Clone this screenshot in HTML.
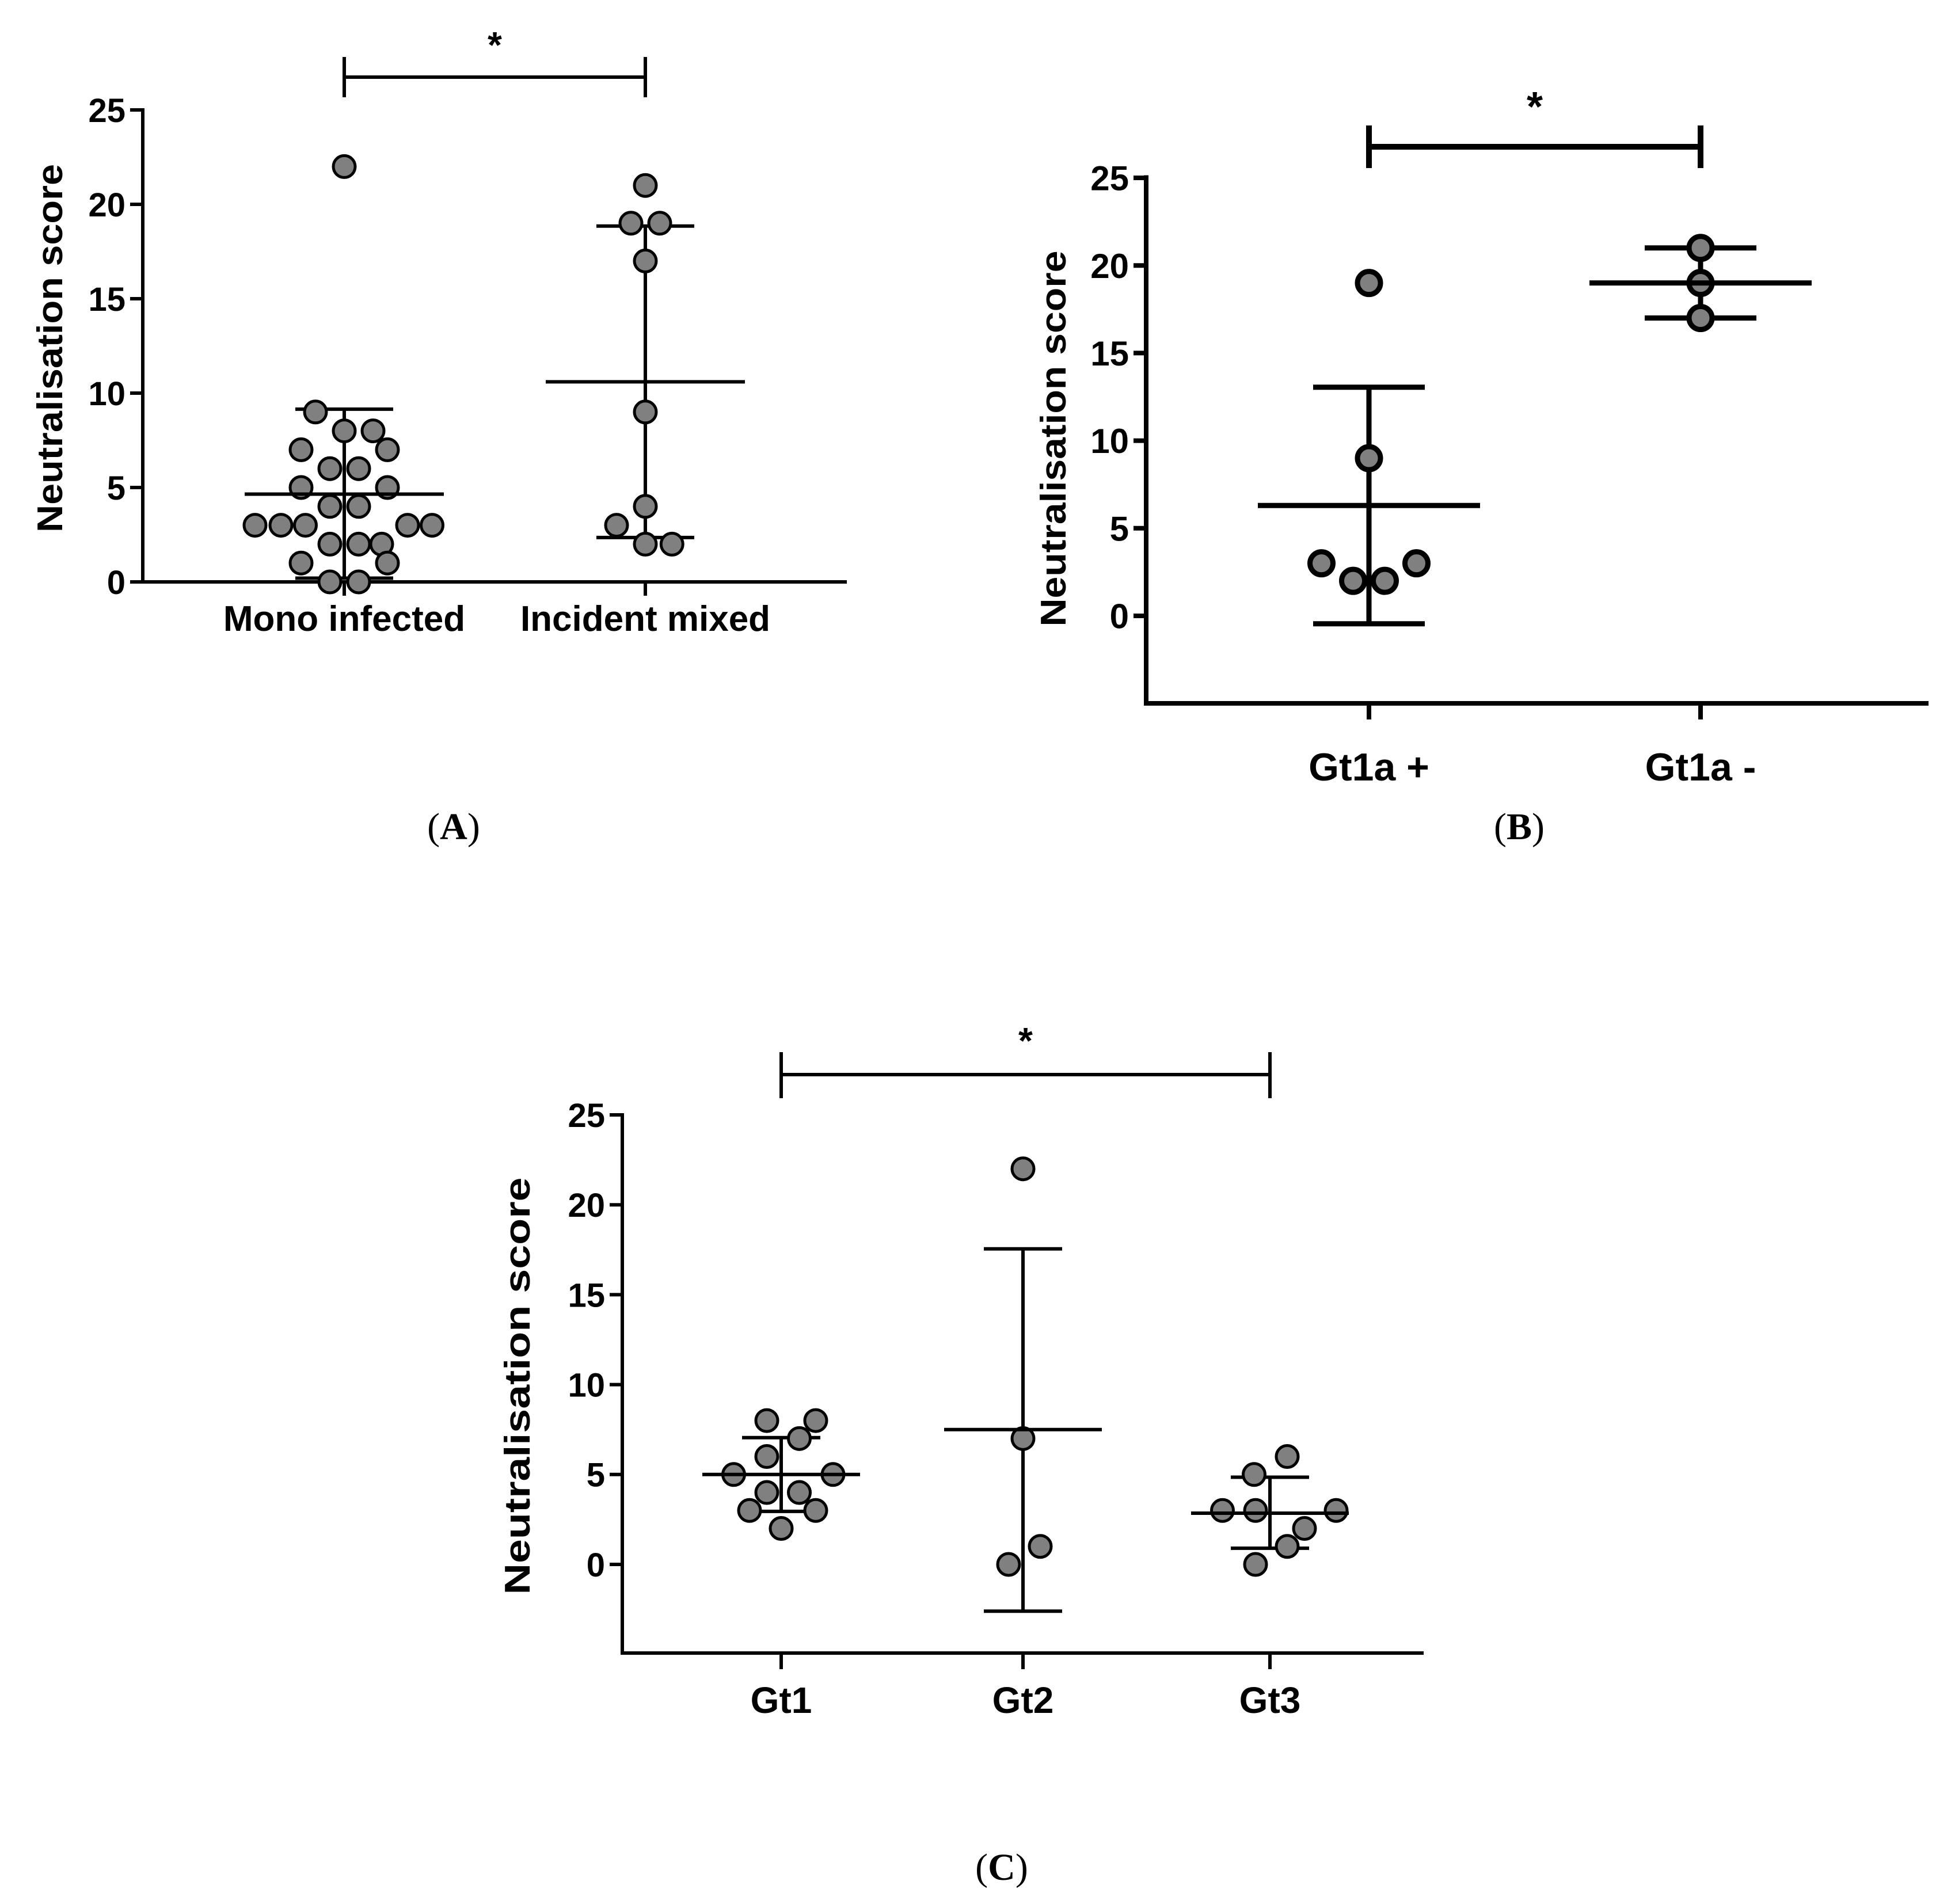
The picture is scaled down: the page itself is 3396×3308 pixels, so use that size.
<!DOCTYPE html>
<html><head><meta charset="utf-8"><style>
html,body{margin:0;padding:0;background:#fff;}
svg{display:block;}
text{font-family:"Liberation Sans",Arial,sans-serif;font-weight:bold;fill:#000;}
.pl{font-family:"Liberation Serif",serif;font-weight:normal;}
</style></head><body>
<svg id="fig" width="3396" height="3308" viewBox="0 0 3396 3308" xmlns="http://www.w3.org/2000/svg">
<rect width="3396" height="3308" fill="#fff"/>
<text class="pl" x="788" y="1458" font-size="66" text-anchor="middle">(<tspan font-weight="bold">A</tspan>)</text>
<text class="pl" x="2639" y="1458" font-size="66" text-anchor="middle">(<tspan font-weight="bold">B</tspan>)</text>
<text class="pl" x="1740" y="3266" font-size="66" text-anchor="middle">(<tspan font-weight="bold">C</tspan>)</text>
</svg>
<script>
// ---- Panel A data ----
const aCategories = ["Mono infected", "Incident mixed"];
const aMonoValues = [22, 9, 8, 8, 7, 7, 6, 6, 5, 5, 4, 4, 3, 3, 3, 3, 3, 2, 2, 2, 1, 1, 0, 0];
const aMonoJitter = [0, -2, 0, 2, -3, 3, -1, 1, -3, 3, -1, 1, -6.2, -4.4, -2.7, 4.4, 6.1, -1, 1, 2.6, -3, 3, -1, 1];
const aMixedValues = [21, 19, 19, 17, 9, 4, 3, 2, 2];
const aMixedJitter = [0, -1, 1, 0, 0, 0, -2, 0, 1.85];
const aMean = [4.65, 10.6];
const aUpper = [9.15, 18.85];
const aLower = [0.2, 2.35];
// ---- Panel B data ----
const bCategories = ["Gt1a +", "Gt1a -"];
const bPlusValues = [19, 9, 3, 2, 2, 3];
const bPlusJitter = [0, 0, -3.3, -1.1, 1.1, 3.3];
const bMinusValues = [21, 19, 17];
const bMinusJitter = [0, 0, 0];
const bMean = [6.3, 19];
const bUpper = [13.05, 21];
const bLower = [-0.45, 17];
// ---- Panel C data ----
const cCategories = ["Gt1", "Gt2", "Gt3"];
const cGt1Values = [8, 8, 7, 6, 5, 5, 4, 4, 3, 3, 2];
const cGt1Jitter = [-1, 2.4, 1.26, -1, -3.3, 3.6, -1, 1.26, -2.2, 2.4, 0];
const cGt2Values = [22, 7, 1, 0];
const cGt2Jitter = [0, 0, 1.2, -1];
const cGt3Values = [6, 5, 3, 3, 3, 2, 1, 0];
const cGt3Jitter = [1.2, -1.1, -3.3, -1, 4.6, 2.4, 1.2, -1];
const cMean = [5, 7.5, 2.85];
const cUpper = [7.05, 17.55, 4.85];
const cLower = [2.95, -2.6, 0.9];
const yTicks = [0, 5, 10, 15, 20, 25];

const NS = "http://www.w3.org/2000/svg";
const svg = document.getElementById("fig");
function mk(tag, attrs, parent) {
  const el = document.createElementNS(NS, tag);
  for (const k in attrs) el.setAttribute(k, attrs[k]);
  (parent || svg).appendChild(el);
  return el;
}

function drawPanel(p) {
  const g = mk("g", {});
  
  
  const y = v => p.y0 - (v - 0) * (p.y0 - p.y25) / 25;
  const xc = i => p.cx[i];
  const lw = p.lw;
  const yax = mk("line", {x1: p.ax, y1: y(25) - lw / 2, x2: p.ax, y2: p.yBottom + p.axw / 2, stroke: "#000", "stroke-width": p.axw}, g);
  
  
  const xax = mk("line", {x1: p.ax - p.axw / 2, y1: p.yBottom, x2: p.xEnd, y2: p.yBottom, stroke: "#000", "stroke-width": p.axw}, g);
  
  
  yTicks.forEach(t => {
    const tk = mk("line", {x1: p.ax - p.tickLen, y1: y(t), x2: p.ax, y2: y(t), stroke: "#000", "stroke-width": p.axw}, g);
    
    
    const tl = mk("text", {x: p.ax - p.tickLen - 8, y: y(t) + p.fs * 0.36, "font-size": p.fs, "text-anchor": "end"}, g);
    tl.textContent = String(t);
    
    
  });
  p.categories.forEach((c, i) => {
    const tk = mk("line", {x1: xc(i), y1: p.yBottom, x2: xc(i), y2: p.yBottom + p.xTickLen, stroke: "#000", "stroke-width": p.axw}, g);
    
    
    const tl = mk("text", {x: xc(i), y: p.labelY, "font-size": p.lfs, "text-anchor": "middle"}, g);
    tl.textContent = c;
    
    
  });
  const yt = mk("text", {x: 0, y: 0, "font-size": p.tfs, "text-anchor": "middle", textLength: p.tLen, lengthAdjust: "spacingAndGlyphs",
    transform: "translate(" + p.titleX + "," + p.titleY + ") rotate(-90)"}, g);
  yt.textContent = "Neutralisation score";
  
  
  const sx1 = xc(0), sx2 = xc(p.categories.length - 1);
  const sb = mk("path", {d: "M" + sx1 + "," + p.sigTop + "V" + p.sigBot + "M" + sx1 + "," + p.sigY + "H" + sx2 + "M" + sx2 + "," + p.sigTop + "V" + p.sigBot, stroke: "#000", "stroke-width": p.sigW, fill: "none"}, g);
  
  
  const st = mk("text", {x: (sx1 + sx2) / 2, y: p.starY, "font-size": p.starFs, "text-anchor": "middle"}, g);
  st.textContent = "*";
  
  
  p.categories.forEach((c, i) => {
    const eb = mk("path", {d: "M" + xc(i) + "," + y(p.upper[i]) + "V" + y(p.lower[i]) +
      "M" + (xc(i) - p.capHalf) + "," + y(p.upper[i]) + "H" + (xc(i) + p.capHalf) +
      "M" + (xc(i) - p.capHalf) + "," + y(p.lower[i]) + "H" + (xc(i) + p.capHalf), stroke: "#000", "stroke-width": lw, fill: "none"}, g);
    
    
  });
  p.series.forEach((s, i) => {
    s.values.forEach((v, k) => {
      const pt = mk("circle", {cx: xc(i) + s.jitter[k] * p.jUnit, cy: y(v), r: p.r, fill: "#808080", stroke: "#000", "stroke-width": p.ptw}, g);
      
      
    });
  });
  p.categories.forEach((c, i) => {
    const ml = mk("line", {x1: xc(i) - p.meanHalf, y1: y(p.mean[i]), x2: xc(i) + p.meanHalf, y2: y(p.mean[i]), stroke: "#000", "stroke-width": lw}, g);
    
    
  });
}

drawPanel({name: "panel-a", categories: aCategories, cx: [598, 1121], y0: 1011, y25: 191, ax: 248, yBottom: 1011, xEnd: 1471,
  axw: 6, lw: 6, tickLen: 22, xTickLen: 24, fs: 58, lfs: 62, labelY: 1096, tfs: 62, tLen: 640, titleX: 108, titleY: 605,
  sigY: 134, sigTop: 99, sigBot: 169, sigW: 6, starY: 100, starFs: 64,
  mean: aMean, upper: aUpper, lower: aLower, capHalf: 85, meanHalf: 173,
  series: [{values: aMonoValues, jitter: aMonoJitter}, {values: aMixedValues, jitter: aMixedJitter}],
  jUnit: 25, r: 19, ptw: 5});

drawPanel({name: "panel-b", categories: bCategories, cx: [2378, 2954], y0: 1070, y25: 309, ax: 1991, yBottom: 1222, xEnd: 3350,
  axw: 8, lw: 9, tickLen: 22, xTickLen: 28, fs: 60, lfs: 68, labelY: 1356, tfs: 62, tLen: 653, titleX: 1851, titleY: 762,
  sigY: 255, sigTop: 218, sigBot: 292, sigW: 10, starY: 210, starFs: 72,
  mean: bMean, upper: bUpper, lower: bLower, capHalf: 97, meanHalf: 193,
  series: [{values: bPlusValues, jitter: bPlusJitter}, {values: bMinusValues, jitter: bMinusJitter}],
  jUnit: 25, r: 20, ptw: 9});

drawPanel({name: "panel-c", categories: cCategories, cx: [1357, 1777, 2206], y0: 2718, y25: 1937, ax: 1081, yBottom: 2872, xEnd: 2473,
  axw: 6, lw: 6, tickLen: 22, xTickLen: 28, fs: 58, lfs: 64, labelY: 2976, tfs: 62, tLen: 725, titleX: 920, titleY: 2408,
  sigY: 1867, sigTop: 1828, sigBot: 1908, sigW: 6, starY: 1830, starFs: 64,
  mean: cMean, upper: cUpper, lower: cLower, capHalf: 68, meanHalf: 137,
  series: [{values: cGt1Values, jitter: cGt1Jitter}, {values: cGt2Values, jitter: cGt2Jitter}, {values: cGt3Values, jitter: cGt3Jitter}],
  jUnit: 25, r: 19, ptw: 5});
</script>
</body></html>
